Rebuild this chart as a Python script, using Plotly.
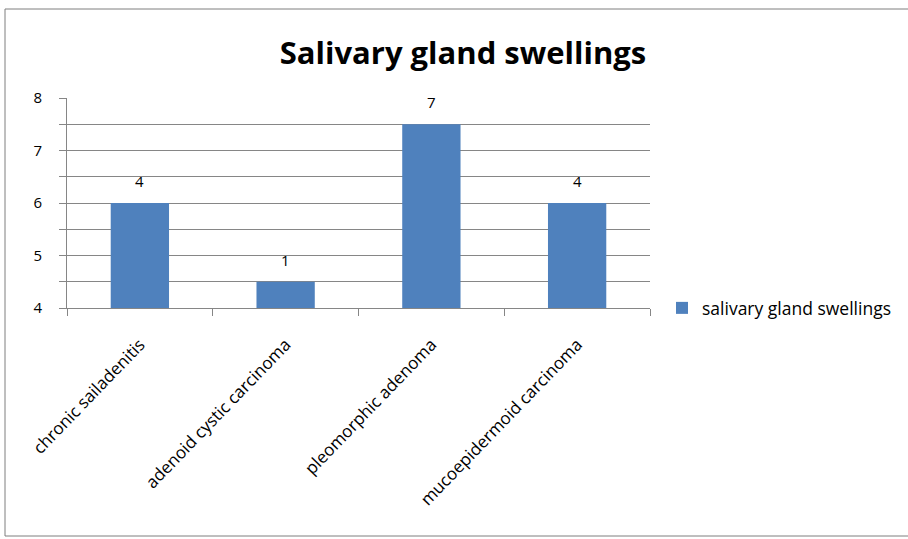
import plotly.graph_objects as go

# Data
categories = ["chronic sailadenitis", "adenoid cystic carcinoma",
              "pleomorphic adenoma", "mucoepidermoid carcinoma"]
counts = [4, 1, 7, 4]
series_name = "salivary gland swellings"
y_tick_values = [0, 2, 4, 6, 8]
y_tick_labels = ["4", "5", "6", "7", "8"]

W, H = 908, 539
L, R, T, B = 67, 258, 98, 231
pw, ph = W - L - R, H - T - B

font_family = "Open Sans, Lato, sans-serif"

fig = go.Figure()
fig.add_trace(go.Bar(
    x=categories, y=counts, name=series_name,
    marker=dict(color="#4F81BD", line=dict(width=0)),
    showlegend=True,
))

# Value labels above each bar
annotations = [
    dict(x=c, y=v, xref="x", yref="y", text=str(v), showarrow=False,
         yanchor="bottom", yshift=10,
         font=dict(family=font_family, size=15, color="#000000"))
    for c, v in zip(categories, counts)
]

fig.update_layout(
    width=W, height=H,
    margin=dict(l=L, r=R, t=T, b=B, autoexpand=False),
    paper_bgcolor="white", plot_bgcolor="white",
    bargap=0.6,
    title=dict(text="<b>Salivary gland swellings</b>", x=463 / W, xanchor="center",
               y=1 - 53 / H, yanchor="middle",
               font=dict(family=font_family, size=31, color="#000000")),
    showlegend=True,
    legend=dict(x=(662 - L) / pw, y=0, xanchor="left", yanchor="middle",
                font=dict(family=font_family, size=17.5, color="#000000"),
                bgcolor="rgba(0,0,0,0)", itemwidth=30),
    annotations=annotations,
    xaxis=dict(
        showline=True, linecolor="#868686", linewidth=1,
        ticks="outside", ticklen=7, tickcolor="#868686",
        tickson="boundaries",
        tickangle=-46,
        ticklabelstandoff=19,
        tickfont=dict(family=font_family, size=17, color="#000000"),
        showgrid=False,
    ),
    yaxis=dict(
        range=[0, 8],
        tickvals=y_tick_values, ticktext=y_tick_labels,
        showline=True, linecolor="#868686", linewidth=1,
        ticks="outside", ticklen=7, tickcolor="#868686",
        showgrid=True, gridcolor="#868686", gridwidth=1,
        tickfont=dict(family=font_family, size=15, color="#000000"),
        ticklabelstandoff=14,
        minor=dict(dtick=1, showgrid=True, gridcolor="#868686", gridwidth=1,
                   ticks="outside", ticklen=7, tickcolor="#868686"),
        zeroline=False,
    ),
    shapes=[dict(
        type="rect", xref="paper", yref="paper",
        x0=(5 - L) / pw, x1=(912 - L) / pw,
        y0=(T + ph - 536) / ph, y1=(T + ph - 9) / ph,
        line=dict(color="#7f7f7f", width=1), fillcolor="rgba(0,0,0,0)",
        layer="below",
    )],
)

fig.write_html("out.html")
